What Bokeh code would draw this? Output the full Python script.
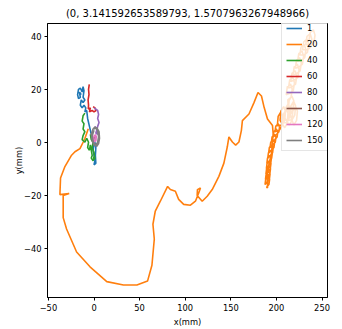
from bokeh.plotting import figure
from bokeh.models import FixedTicker
from bokeh.embed import file_html
from bokeh.resources import INLINE

# Trajectories (x, y in mm) for each run
x_1 = [-14, -16, -15, -17, -18, -17, -15, -13, -12, -11, -12, -10, -12, -14, -15, -13, -11, -9, -10, -8,
       -7, -5, -3, -1, 0, -1, 0, 1, 0, 2, 1.5, 2, 1]
y_1 = [18, 19, 17, 16.5, 18, 20, 20.5, 19, 21, 19.5, 17, 16, 15, 16, 14, 13, 14, 13, 11.5, 12,
       9, 6, 3, 1, -1, -3, -5, -7, -8.5, -8, -5, -2, 0]

# run 20: long excursion, then a climbing chain of small loops
x_20 = [-6.3, -9.9, -11.8, -15.4, -20.9, -24.6, -31.9, -36.7, -37.4, -27.2, -33.8, -33.8, -30.1, -19.1,
        -4.4, 14, 32.3, 47, 58.7, 63.5, 66.1, 64.6, 67.2, 72.7, 80.7, 83.7, 89.2, 92.8, 98.3, 105.7,
        111.2, 114.9, 116.7, 113.4, 113.1, 118.6, 124.1, 129.6, 136.9, 142.4, 146.1, 147.9, 151.7,
        155.3, 158.9, 161.6, 162.7, 169.9, 175.4, 179.8, 183.6, 186.5, 190.2, 195.7, 196.4, 194.6,
        192, 190.2, 190.2,
        189.25, 191.75, 192.5, 190.75, 188.25, 187.5,
        189.75, 192.25, 193, 191.25, 188.75, 188,
        190.25, 192.75, 193.5, 191.75, 189.25, 188.5,
        190.75, 193.25, 194, 192.25, 189.75, 189,
        191.25, 193.75, 194.5, 192.75, 190.25, 189.5,
        192.25, 194.75, 195.5, 193.75, 191.25, 190.5,
        193.25, 195.75, 196.5, 194.75, 192.25, 191.5,
        194.75, 197.25, 198, 196.25, 193.75, 193,
        196.25, 198.75, 199.5, 197.75, 195.25, 194.5,
        198.25, 200.75, 201.5, 199.75, 197.25, 196.5,
        200.25, 202.75, 203.5, 201.75, 199.25, 198.5,
        203.1, 206.1, 207, 204.9, 201.9, 201,
        206.1, 209.1, 210, 207.9, 204.9, 204,
        209.1, 212.1, 213, 210.9, 207.9, 207,
        211.1, 214.1, 215, 212.9, 209.9, 209,
        214.1, 217.1, 218, 215.9, 212.9, 212,
        217.1, 220.1, 221, 218.9, 215.9, 215,
        219.1, 222.1, 223, 220.9, 217.9, 217,
        215.1, 218.1, 219, 216.9, 213.9, 213,
        212.5, 216, 217.3, 215.5, 212, 210.7,
        215, 218.5, 219.8, 218, 214.5, 213.2,
        217.5, 221, 222.3, 220.5, 217, 215.7,
        220, 223.5, 224.8, 223, 219.5, 218.2,
        222.5, 226, 227.3, 225.5, 222, 220.7,
        225, 228.5, 229.8, 228, 224.5, 223.2,
        227.5, 231, 232.3, 230.5, 227, 225.7,
        230.5, 234, 235.3, 233.5, 230, 228.7,
        234, 237.5, 238.8, 237, 233.5, 232.2,
        237.5, 241, 242.3, 240.5, 237, 235.7]
y_20 = [5.1, 1.5, 0.1, -2.4, -3.6, -4.9, -9.2, -13.5, -19.8, -19.4, -20.1, -28.5, -32.8, -41.5,
        -47.1, -52.7, -54, -54, -52.5, -46.5, -36.6, -31, -26, -22.3, -16.7, -17.9, -18.5, -21.6,
        -23.5, -23.8, -22.3, -19.1, -17.3, -17.9, -20.1, -22.3, -20.4, -17.9, -12.9, -7.9, -1.8,
        2.0, 0.1, -1.1, 0.1, 4.5, 8.2, 10.7, 15.0, 18.8, 17.5, 13.2, 8.8, 6.3, 3.2, -4.2,
        -7.9, -11.7, -17.3,
        -17, -16, -14, -13, -14, -16,
        -15, -14, -12, -11, -12, -14,
        -13, -12, -10, -9, -10, -12,
        -11, -10, -8, -7, -8, -10,
        -9, -8, -6, -5, -6, -8,
        -7, -6, -4, -3, -4, -6,
        -5, -4, -2, -1, -2, -4,
        -3, -2, 0, 1, 0, -2,
        -1, 0, 2, 3, 2, 0,
        1, 2, 4, 5, 4, 2,
        3, 4, 6, 7, 6, 4,
        4.5, 6.25, 9.75, 11.5, 9.75, 6.25,
        6.5, 8.25, 11.75, 13.5, 11.75, 8.25,
        5.5, 7.25, 10.75, 12.5, 10.75, 7.25,
        7.5, 9.25, 12.75, 14.5, 12.75, 9.25,
        6.5, 8.25, 11.75, 13.5, 11.75, 8.25,
        8.5, 10.25, 13.75, 15.5, 13.75, 10.25,
        6.5, 8.25, 11.75, 13.5, 11.75, 8.25,
        10.5, 12.25, 15.75, 17.5, 15.75, 12.25,
        16, 17, 20, 22, 21, 18,
        18.5, 19.5, 22.5, 24.5, 23.5, 20.5,
        21, 22, 25, 27, 26, 23,
        23.5, 24.5, 27.5, 29.5, 28.5, 25.5,
        26, 27, 30, 32, 31, 28,
        28.5, 29.5, 32.5, 34.5, 33.5, 30.5,
        31, 32, 35, 37, 36, 33,
        33, 34, 37, 39, 38, 35,
        35, 36, 39, 41, 40, 37,
        36.5, 37.5, 40.5, 42.5, 41.5, 38.5]

x_40 = [-10, -12, -13, -11, -12, -10, -12, -13, -10, -8, -6, -7, -5, -4, -3, -2, -3, -1, 0, 1, 0,
        -2, -1, -3, -4]
y_40 = [11, 10, 8, 7, 5, 4, 2.5, 1, 0, 1.5, 0, -2, -3, -1, -3, -5, -6, -7, -5.5, -6.5, -4,
        -2, 0, 1, 3]

x_60 = [-5.2, -6, -5.5, -6.5, -6, -6.3, -4, -5, -2, 0, 2.2, 1, -1]
y_60 = [21.9, 20, 18, 16, 14, 12.6, 13, 11.5, 12, 11.5, 12, 13, 13.5]

x_80 = [0, 2, 4, 5, 4, 5.5, 4, 3, 2, 4, 3, 1]
y_80 = [13, 12.5, 12, 10.5, 9, 7.5, 6, 4.5, 3.5, 3, 5, 6]

x_100 = [0, 1, 1.5, 0.5, -0.5, 0.5]
y_100 = [1.5, 2, 1, 0.5, 1, 1.8]

x_120 = [1, 2.5, 2, 0.5, -0.5, 0.5, 2, 1.2]
y_120 = [3, 2.2, 0.5, 0.2, 1.5, 2.8, 2, 0.8]

x_150 = [0, 3, 5.5, 6, 5, 3, 0, -2, -3, -1, 1, 4, 5, 4, 2, -1, -2, 0]
y_150 = [5, 5.5, 4, 1.5, -0.5, -1.5, -1, 0.5, 3, 5, 5.8, 4.5, 2, 0, -1, 0, 2.5, 4.5]

runs = ["1", "20", "40", "60", "80", "100", "120", "150"]
xs = [x_1, x_20, x_40, x_60, x_80, x_100, x_120, x_150]
ys = [y_1, y_20, y_40, y_60, y_80, y_100, y_120, y_150]
colors = ["#1f77b4", "#ff7f0e", "#2ca02c", "#d62728", "#9467bd", "#8c564b", "#e377c2", "#7f7f7f"]

x_ticks = [-50, 0, 50, 100, 150, 200, 250]
y_ticks = [-40, -20, 0, 20, 40]

FONT = "DejaVu Sans"

p = figure(width=342, height=329, output_backend="svg", toolbar_location=None,
           x_range=(-51, 256), y_range=(-58.7, 44.9),
           title="(0, 3.141592653589793, 1.5707963267948966)",
           min_border_left=47, min_border_right=15, min_border_top=22, min_border_bottom=29)

for name, xv, yv, c in zip(runs, xs, ys, colors):
    p.line(xv, yv, color=c, line_width=1.6, legend_label=name)

p.grid.visible = False
p.outline_line_color = "black"
p.outline_line_width = 1
p.background_fill_color = "white"
p.border_fill_color = "white"

p.title.text_font = FONT
p.title.text_font_size = "10px"
p.title.text_font_style = "normal"
p.title.text_color = "black"
p.title.align = "center"

def minus(v):
    return str(v).replace("-", "\u2212")

for ax, ticks, label in ((p.xaxis[0], x_ticks, "x(mm)"), (p.yaxis[0], y_ticks, "y(mm)")):
    ax.ticker = FixedTicker(ticks=ticks)
    ax.major_label_overrides = {t: minus(t) for t in ticks}
    ax.minor_tick_line_color = None
    ax.major_tick_in = 0
    ax.major_tick_out = 3
    ax.major_tick_line_color = "black"
    ax.axis_line_color = "black"
    ax.major_label_text_font = FONT
    ax.major_label_text_font_size = "8.3px"
    ax.major_label_text_color = "black"
    ax.major_label_standoff = 3
    ax.axis_label = label
    ax.axis_label_text_font = FONT
    ax.axis_label_text_font_size = "8.3px"
    ax.axis_label_text_font_style = "normal"
    ax.axis_label_text_color = "black"
    ax.axis_label_standoff = 3

p.yaxis[0].axis_label_standoff = -3

leg = p.legend[0]
leg.location = (234, 146)
leg.label_text_font = FONT
leg.label_text_font_size = "8.3px"
leg.label_text_color = "black"
leg.glyph_width = 16
leg.glyph_height = 12
leg.label_height = 12
leg.label_width = 20
leg.spacing = 4
leg.padding = 4
leg.margin = 0
leg.label_standoff = 5
leg.border_line_color = "#cccccc"
leg.background_fill_alpha = 0.8

open("out.html", "w").write(file_html(p, INLINE))
